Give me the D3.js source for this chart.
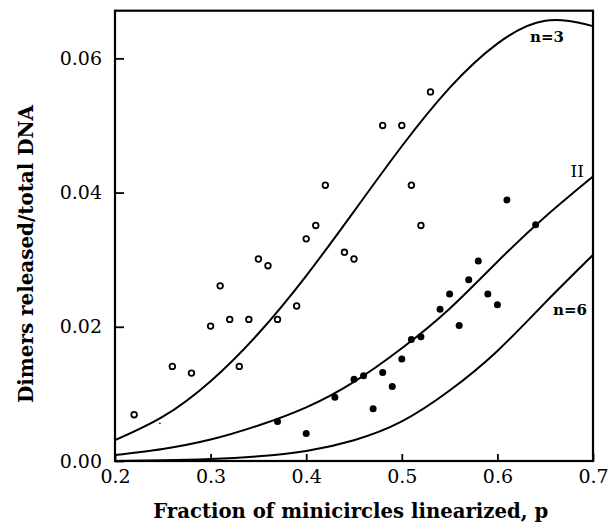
<!DOCTYPE html>
<html>
<head>
<meta charset="utf-8">
<script src="https://cdn.jsdelivr.net/npm/d3@7"></script>
<style>
  html, body { margin: 0; padding: 0; background: #fff; }
  svg { display: block; }
</style>
</head>
<body>
<svg id="chart" width="613" height="525"></svg>
<script>
// ---- data ----
const xTicks = [0.2, 0.3, 0.4, 0.5, 0.6, 0.7];
const yTicks = [0.00, 0.02, 0.04, 0.06];

// open circles
const openP = [0.22, 0.26, 0.28, 0.30, 0.31, 0.32, 0.33, 0.34, 0.35, 0.36, 0.37,
               0.39, 0.40, 0.41, 0.42, 0.44, 0.45, 0.48, 0.50, 0.51, 0.52, 0.53];
const openV = [0.0069, 0.0141, 0.0131, 0.0201, 0.0261, 0.0211, 0.0141, 0.0211, 0.0301, 0.0291, 0.0211,
               0.0231, 0.0331, 0.0351, 0.0411, 0.0311, 0.0301, 0.0500, 0.0500, 0.0411, 0.0351, 0.0550];

// filled circles
const filledP = [0.37, 0.40, 0.43, 0.45, 0.46, 0.47, 0.48, 0.49, 0.50, 0.51,
                 0.52, 0.54, 0.55, 0.56, 0.57, 0.58, 0.59, 0.60, 0.61, 0.64];
const filledV = [0.0059, 0.0041, 0.0095, 0.0122, 0.0127, 0.0078, 0.0132, 0.0111, 0.0152, 0.0181,
                 0.0185, 0.0226, 0.0249, 0.0202, 0.0270, 0.0298, 0.0249, 0.0233, 0.0389, 0.0352];

// speck in the scan
const speckP = [0.247];
const speckV = [0.0056];

// model curves
const curveP  = [0.20, 0.25, 0.30, 0.35, 0.40, 0.45, 0.50, 0.55, 0.60, 0.65, 0.70];
const curveN3 = [0.0031, 0.0066, 0.0119, 0.0190, 0.0276, 0.0372, 0.0469, 0.0556, 0.0622, 0.0656, 0.0648];
const curveII = [0.0009, 0.0018, 0.0032, 0.0053, 0.0080, 0.0118, 0.0168, 0.0227, 0.0297, 0.0364, 0.0424];
const curveN6 = [0.0000, 0.0001, 0.0003, 0.0007, 0.0015, 0.0031, 0.0059, 0.0105, 0.0164, 0.0236, 0.0307];

const curveLabels = ["n=3", "II", "n=6"];
const labelP = [0.6697, 0.6906, 0.6937];
const labelV = [0.0624, 0.0423, 0.0217];

const xTitle = "Fraction of minicircles linearized, p";
const yTitle = "Dimers released/total DNA";

// ---- drawing ----
const svg = d3.select("#chart");
const mLeft = 115, mRight = 593, mTop = 10.7, mBottom = 461;

const x = d3.scaleLinear().domain([0.2, 0.7]).range([mLeft, mRight]);
const y = d3.scaleLinear().domain([0, 0.0671]).range([mBottom, mTop]);

const serif = "'DejaVu Serif', 'Liberation Serif', serif";

// curves
const line = d3.line().x(d => x(d[0])).y(d => y(d[1])).curve(d3.curveNatural);
[curveN3, curveII, curveN6].forEach(vals => {
  svg.append("path")
    .datum(curveP.map((p, i) => [p, vals[i]]))
    .attr("d", line)
    .attr("fill", "none")
    .attr("stroke", "#000")
    .attr("stroke-width", 2);
});

// x axis
const xAxis = d3.axisBottom(x).tickValues(xTicks).tickFormat(d3.format(".1f"))
  .tickSizeInner(-7).tickSizeOuter(0).tickPadding(9);
const gx = svg.append("g").attr("transform", `translate(0,${mBottom})`).call(xAxis);
gx.select(".domain").remove();
gx.selectAll(".tick line").attr("stroke", "#000").attr("stroke-width", 1.8);
gx.selectAll(".tick text").attr("font-family", serif).attr("font-size", 19).attr("fill", "#000");

// y axis
const yAxis = d3.axisLeft(y).tickValues(yTicks).tickFormat(d3.format(".2f"))
  .tickSizeInner(-9).tickSizeOuter(0).tickPadding(13);
const gy = svg.append("g").attr("transform", `translate(${mLeft},0)`).call(yAxis);
gy.select(".domain").remove();
gy.selectAll(".tick line").attr("stroke", "#000").attr("stroke-width", 1.8);
gy.selectAll(".tick text").attr("font-family", serif).attr("font-size", 19).attr("fill", "#000");

// frame
svg.append("rect")
  .attr("x", mLeft).attr("y", mTop)
  .attr("width", mRight - mLeft).attr("height", mBottom - mTop)
  .attr("fill", "none").attr("stroke", "#000").attr("stroke-width", 2.2);

// open circles
svg.append("g").selectAll("circle")
  .data(openP.map((p, i) => [p, openV[i]]))
  .join("circle")
  .attr("cx", d => x(d[0])).attr("cy", d => y(d[1]))
  .attr("r", 2.8)
  .attr("fill", "#fff").attr("stroke", "#000").attr("stroke-width", 1.8);

// filled circles
svg.append("g").selectAll("circle")
  .data(filledP.map((p, i) => [p, filledV[i]]))
  .join("circle")
  .attr("cx", d => x(d[0])).attr("cy", d => y(d[1]))
  .attr("r", 3.5)
  .attr("fill", "#000");

// speck
svg.append("g").selectAll("circle")
  .data(speckP.map((p, i) => [p, speckV[i]]))
  .join("circle")
  .attr("cx", d => x(d[0])).attr("cy", d => y(d[1]))
  .attr("r", 0.8).attr("fill", "#000");

// curve labels
svg.append("g").selectAll("text")
  .data(curveLabels)
  .join("text")
  .attr("x", (d, i) => x(labelP[i]))
  .attr("y", (d, i) => y(labelV[i]))
  .attr("text-anchor", "end")
  .attr("font-family", serif)
  .attr("font-weight", d => d === "II" ? "normal" : "bold")
  .attr("font-size", d => d === "II" ? 17 : 15)
  .attr("fill", "#000")
  .text(d => d);

// axis titles
svg.append("text")
  .attr("x", 350.7).attr("y", 518)
  .attr("text-anchor", "middle")
  .attr("font-family", serif).attr("font-weight", "bold").attr("font-size", 21)
  .attr("textLength", 395).attr("lengthAdjust", "spacingAndGlyphs")
  .attr("fill", "#000")
  .text(xTitle);

svg.append("text")
  .attr("transform", "translate(33,254) rotate(-90)")
  .attr("text-anchor", "middle")
  .attr("font-family", serif).attr("font-weight", "bold").attr("font-size", 21)
  .attr("textLength", 298).attr("lengthAdjust", "spacingAndGlyphs")
  .attr("fill", "#000")
  .text(yTitle);
</script>
</body>
</html>
